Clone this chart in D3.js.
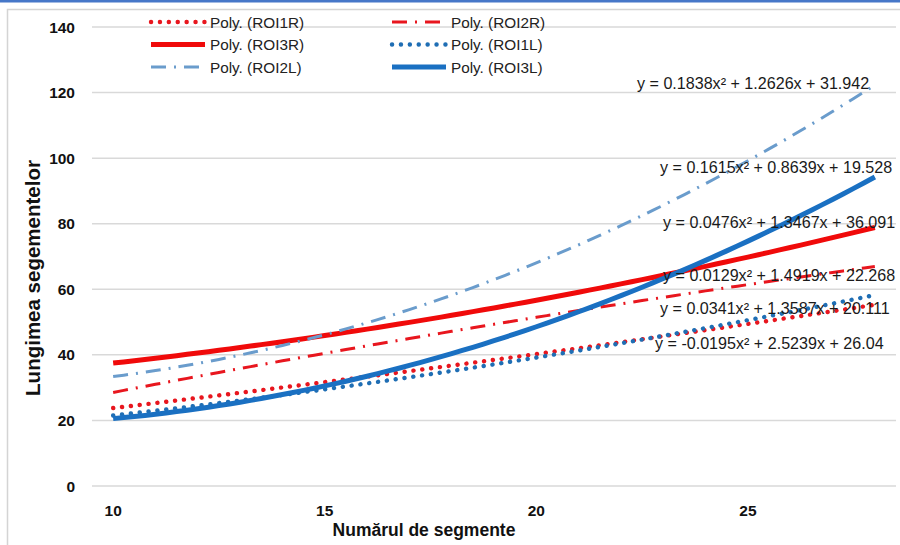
<!DOCTYPE html>
<html>
<head>
<meta charset="utf-8">
<script src="https://cdn.jsdelivr.net/npm/d3@7"></script>
<style>
  html, body { margin: 0; padding: 0; background: #fff; }
  svg { display: block; }
</style>
</head>
<body>
<svg id="chart" width="900" height="545"></svg>
<script>
// Trendline series: names and quadratic coefficients (a·i² + b·i + c, i = 1 at 10 segments)
const seriesNames = ["ROI1R", "ROI2R", "ROI3R", "ROI1L", "ROI2L", "ROI3L"];
const coefA = [0.0129, -0.0195, 0.0476, 0.0341, 0.1838, 0.1615];
const coefB = [1.4919, 2.5239, 1.3467, 1.3587, 1.2626, 0.8639];
const coefC = [22.268, 26.04, 36.091, 20.111, 31.942, 19.528];
const segmentCounts = d3.range(10, 28.01, 0.25);
const yTicks = [0, 20, 40, 60, 80, 100, 120, 140];
const xTicks = [10, 15, 20, 25];
const equationLabels = [
  "y = 0.0129x² + 1.4919x + 22.268",
  "y = -0.0195x² + 2.5239x + 26.04",
  "y = 0.0476x² + 1.3467x + 36.091",
  "y = 0.0341x² + 1.3587x + 20.111",
  "y = 0.1838x² + 1.2626x + 31.942",
  "y = 0.1615x² + 0.8639x + 19.528"
];

// Visual style per series
const styles = [
  { color: "#e8161e", width: 4.4, dash: "0.1 8.8", cap: "round" },
  { color: "#e8161e", width: 3, dash: "15 8 2 8", cap: "butt" },
  { color: "#f00a0a", width: 5, dash: null, cap: "butt" },
  { color: "#1f6eb4", width: 4.4, dash: "0.1 8.8", cap: "round" },
  { color: "#6a9ccc", width: 3, dash: "15 8 2 8", cap: "butt" },
  { color: "#1a70c2", width: 5, dash: null, cap: "butt" }
];
// Equation label positions (left x, baseline y) in pixels
const labelPos = [[663, 281], [655, 349], [663, 228], [660, 314], [637, 89], [660, 173]];

const svg = d3.select("#chart");
const font = "Liberation Sans, Arial, sans-serif";

// Outer frame
svg.append("rect").attr("x", 0).attr("y", 0).attr("width", 900).attr("height", 2.5).attr("fill", "#4677c8");
svg.append("path").attr("d", "M7.5,545 V9.5 H900").attr("fill", "none").attr("stroke", "#d4d4d4").attr("stroke-width", 1.5);

const x = d3.scaleLinear().domain([9.5, 28.5]).range([92, 896]);
const y = d3.scaleLinear().domain([0, 140]).range([486, 27]);

// Horizontal gridlines
svg.append("g").selectAll("line").data(yTicks).join("line")
  .attr("x1", 92).attr("x2", 896)
  .attr("y1", d => y(d)).attr("y2", d => y(d))
  .attr("stroke", "#d9d9d9").attr("stroke-width", 1.5);

// Y axis labels
svg.append("g").selectAll("text").data(yTicks).join("text")
  .attr("x", 75).attr("y", d => y(d) + 5.5)
  .attr("text-anchor", "end")
  .attr("font-family", font)
  .attr("font-weight", "bold").attr("font-size", 15.5).attr("fill", "#111")
  .text(d => d);

// X axis labels
svg.append("g").selectAll("text").data(xTicks).join("text")
  .attr("x", d => x(d)).attr("y", 516)
  .attr("text-anchor", "middle")
  .attr("font-family", font)
  .attr("font-weight", "bold").attr("font-size", 15.5).attr("fill", "#111")
  .text(d => d);

// Axis titles
svg.append("text")
  .attr("x", 424).attr("y", 536).attr("text-anchor", "middle")
  .attr("font-family", font)
  .attr("font-weight", "bold").attr("font-size", 17.5).attr("fill", "#111")
  .text("Numărul de segmente");
svg.append("text")
  .attr("transform", "translate(40,278) rotate(-90)").attr("text-anchor", "middle")
  .attr("font-family", font)
  .attr("font-weight", "bold").attr("font-size", 20.5).attr("fill", "#111")
  .text("Lungimea segementelor");

// Trendline curves
const line = d3.line().x(d => x(d[0])).y(d => y(d[1]));
seriesNames.forEach((name, k) => {
  const pts = segmentCounts.map(s => {
    const i = s - 9;
    return [s, coefA[k] * i * i + coefB[k] * i + coefC[k]];
  });
  const st = styles[k];
  svg.append("path").datum(pts)
    .attr("d", line)
    .attr("fill", "none")
    .attr("stroke", st.color)
    .attr("stroke-width", st.width)
    .attr("stroke-linecap", st.cap)
    .attr("stroke-dasharray", st.dash);
});

// Equation labels
svg.append("g").selectAll("text").data(equationLabels).join("text")
  .attr("x", (d, i) => labelPos[i][0]).attr("y", (d, i) => labelPos[i][1])
  .attr("font-family", font)
  .attr("font-size", 16.1).attr("fill", "#1a1a1a")
  .text(d => d);

// Legend (two columns, three rows)
const legend = svg.append("g");
seriesNames.forEach((name, k) => {
  const col = k % 2, row = Math.floor(k / 2);
  const x0 = col === 0 ? 151 : 392;
  const yy = 22 + row * 22.5;
  const st = styles[k];
  legend.append("line")
    .attr("x1", x0).attr("x2", x0 + 54).attr("y1", yy).attr("y2", yy)
    .attr("stroke", st.color)
    .attr("stroke-width", st.width)
    .attr("stroke-linecap", st.cap)
    .attr("stroke-dasharray", st.dash);
  legend.append("text")
    .attr("x", x0 + 59).attr("y", yy + 5.5)
    .attr("font-family", font)
    .attr("font-size", 15.3).attr("fill", "#222")
    .text("Poly. (" + name + ")");
});
</script>
</body>
</html>
